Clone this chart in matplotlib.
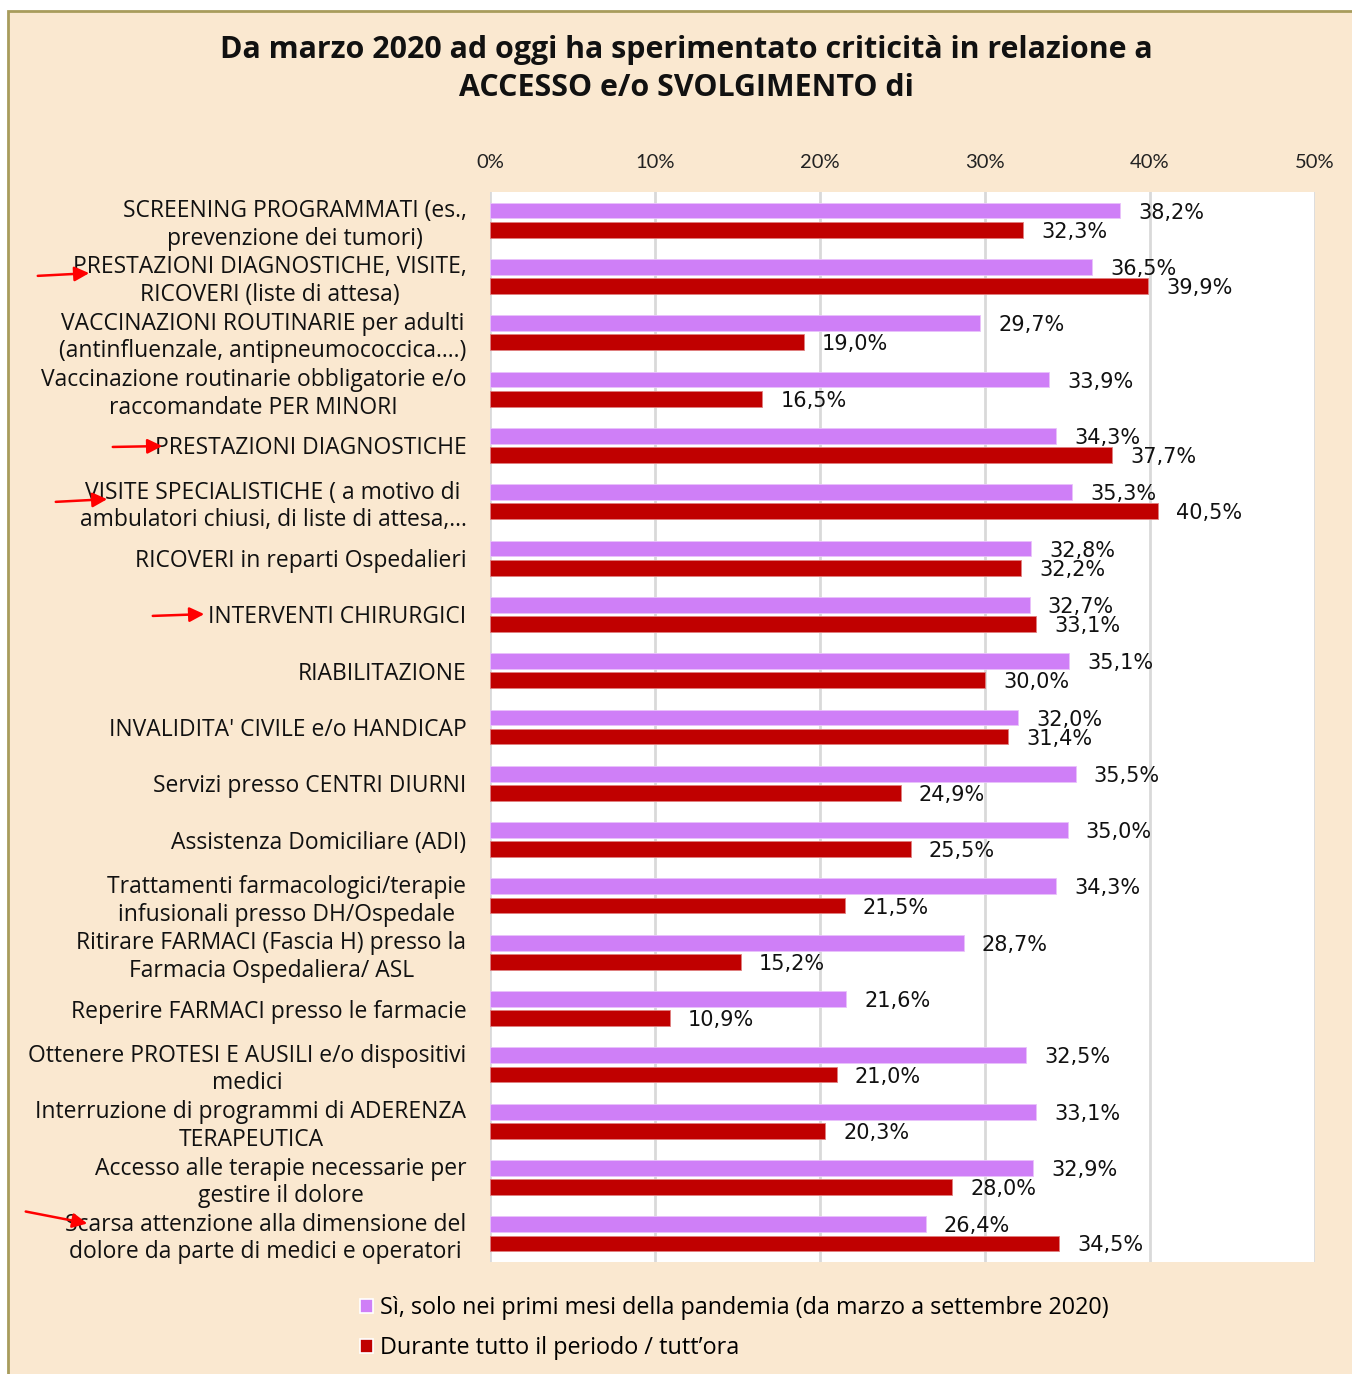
import matplotlib
matplotlib.use("Agg")
import matplotlib.pyplot as plt
from matplotlib.patches import Rectangle, Patch, FancyArrowPatch
import numpy as np

categories = [
    "SCREENING PROGRAMMATI (es.,\nprevenzione dei tumori)",
    "PRESTAZIONI DIAGNOSTICHE, VISITE,\nRICOVERI (liste di attesa)",
    "VACCINAZIONI ROUTINARIE per adulti\n(antinfluenzale, antipneumococcica….)",
    "Vaccinazione routinarie obbligatorie e/o\nraccomandate PER MINORI",
    "PRESTAZIONI DIAGNOSTICHE",
    "VISITE SPECIALISTICHE ( a motivo di\nambulatori chiusi, di liste di attesa,…",
    "RICOVERI in reparti Ospedalieri",
    "INTERVENTI CHIRURGICI",
    "RIABILITAZIONE",
    "INVALIDITA' CIVILE e/o HANDICAP",
    "Servizi presso CENTRI DIURNI",
    "Assistenza Domiciliare (ADI)",
    "Trattamenti farmacologici/terapie\ninfusionali presso DH/Ospedale",
    "Ritirare FARMACI (Fascia H) presso la\nFarmacia Ospedaliera/ ASL",
    "Reperire FARMACI presso le farmacie",
    "Ottenere PROTESI E AUSILI e/o dispositivi\nmedici",
    "Interruzione di programmi di ADERENZA\nTERAPEUTICA",
    "Accesso alle terapie necessarie per\ngestire il dolore",
    "Scarsa attenzione alla dimensione del\ndolore da parte di medici e operatori",
]
series_names = [
    "Sì, solo nei primi mesi della pandemia (da marzo a settembre 2020)",
    "Durante tutto il periodo / tutt’ora",
]
solo_primi_mesi = [38.2, 36.5, 29.7, 33.9, 34.3, 35.3, 32.8, 32.7, 35.1, 32.0,
                   35.5, 35.0, 34.3, 28.7, 21.6, 32.5, 33.1, 32.9, 26.4]
tutto_periodo = [32.3, 39.9, 19.0, 16.5, 37.7, 40.5, 32.2, 33.1, 30.0, 31.4,
                 24.9, 25.5, 21.5, 15.2, 10.9, 21.0, 20.3, 28.0, 34.5]
xticks = [0, 10, 20, 30, 40, 50]
xtick_labels = ["0%", "10%", "20%", "30%", "40%", "50%"]
title_lines = ["Da marzo 2020 ad oggi ha sperimentato criticità in relazione a",
               "ACCESSO e/o SVOLGIMENTO di"]

W, H = 1352, 1374
BG = "#FAE8D0"
PURPLE = "#CF7FF7"
RED = "#C00000"
FONT = "Open Sans"
TFONT = "Lato"
VFONT = "DejaVu Sans"

def fx(px):
    return px / W

def fy(py):
    return 1 - py / H

fig = plt.figure(figsize=(W / 100, H / 100), dpi=100)
fig.patch.set_facecolor("white")
renderer = fig.canvas.get_renderer()

def text_width(s, family, size, weight="normal"):
    t = fig.text(0, 0, s, family=family, fontsize=size, fontweight=weight)
    w = t.get_window_extent(renderer=renderer).width
    t.remove()
    return w

def fit(pairs, family, weight="normal", base=15.0):
    scales = [target / text_width(s, family, base, weight) for s, target in pairs]
    return base * float(np.mean(scales))

title_size = fit([(title_lines[0], 935)], FONT, "bold")
label_size = fit([("Reperire FARMACI presso le farmacie", 396),
                  ("SCREENING PROGRAMMATI (es.,", 338),
                  ("RICOVERI in reparti Ospedalieri", 336)], FONT)
legend_size = fit([(series_names[0], 729)], FONT)
value_size = min(fit([("38,2%", 68), ("40,5%", 67)], VFONT), 15.0)
tick_size = 14.5

fig.add_artist(Rectangle((fx(8), fy(H + 20)), 1.2, fy(11) - fy(H + 20),
                         transform=fig.transFigure, facecolor=BG,
                         edgecolor="#A89C5C", linewidth=2, zorder=0))

ax = fig.add_axes([fx(490), fy(1262), fx(1315) - fx(490), fy(192) - fy(1262)])
ax.set_facecolor("white")
n = len(categories)
y = np.arange(n)
off = 0.17
h = 0.28
ax.barh(y - off, solo_primi_mesi, height=h, color=PURPLE, edgecolor="#E9C2FB",
        linewidth=0.6, zorder=3, label=series_names[0])
ax.barh(y + off, tutto_periodo, height=h, color=RED, edgecolor="#E08080",
        linewidth=0.6, zorder=3, label=series_names[1])
ax.set_xlim(0, 50)
ax.set_ylim(n - 0.5, -0.5)
ax.set_xticks(xticks)
ax.set_xticklabels(xtick_labels, fontsize=tick_size, family=TFONT, color="#222222")
ax.xaxis.tick_top()
ax.tick_params(axis="x", length=0, pad=15)
ax.set_yticks(y)
ax.set_yticklabels(categories, fontsize=label_size, family=FONT, color="#111111",
                   multialignment="center", linespacing=1.2)
ax.tick_params(axis="y", length=0, pad=17)
ax.grid(axis="x", color="#D9D9D9", linewidth=2, zorder=0)
ax.set_axisbelow(True)
for s in ax.spines.values():
    s.set_visible(False)

for yi, v in zip(y - off, solo_primi_mesi):
    ax.annotate(f"{v:.1f}%".replace(".", ","), (v, yi), xytext=(13, -1.5),
                textcoords="offset points", va="center", ha="left",
                fontsize=value_size, family=VFONT, color="#111111", zorder=5)
for yi, v in zip(y + off, tutto_periodo):
    ax.annotate(f"{v:.1f}%".replace(".", ","), (v, yi), xytext=(13, -1.5),
                textcoords="offset points", va="center", ha="left",
                fontsize=value_size, family=VFONT, color="#111111", zorder=5)

for line, py in zip(title_lines, [50, 88]):
    fig.text(fx(686), fy(py), line, ha="center", va="center", fontsize=title_size,
             family=FONT, fontweight="bold", color="#111111")

handles = [Patch(facecolor=PURPLE, edgecolor="white", linewidth=1.2),
           Patch(facecolor=RED, edgecolor="white", linewidth=1.2)]
fig.legend(handles, series_names, loc="center left",
           bbox_to_anchor=(fx(360), fy(1328)), frameon=False,
           prop={"family": FONT, "size": legend_size}, handlelength=0.55,
           handleheight=0.55, handletextpad=0.3, labelspacing=0.68, borderaxespad=0,
           borderpad=0)

arrows = [((35, 276), (92, 273)), ((110, 447), (165, 446)), ((53, 502), (110, 499)),
          ((150, 616), (207, 614)), ((23, 1211), (90, 1224))]
for (x0, y0), (x1, y1) in arrows:
    fig.add_artist(FancyArrowPatch((fx(x0), fy(y0)), (fx(x1), fy(y1)),
                                   transform=fig.transFigure, arrowstyle="-|>",
                                   mutation_scale=22, color="#FF0000",
                                   linewidth=1.8, zorder=10))

fig.savefig("out.png", dpi=100, facecolor=fig.get_facecolor())
